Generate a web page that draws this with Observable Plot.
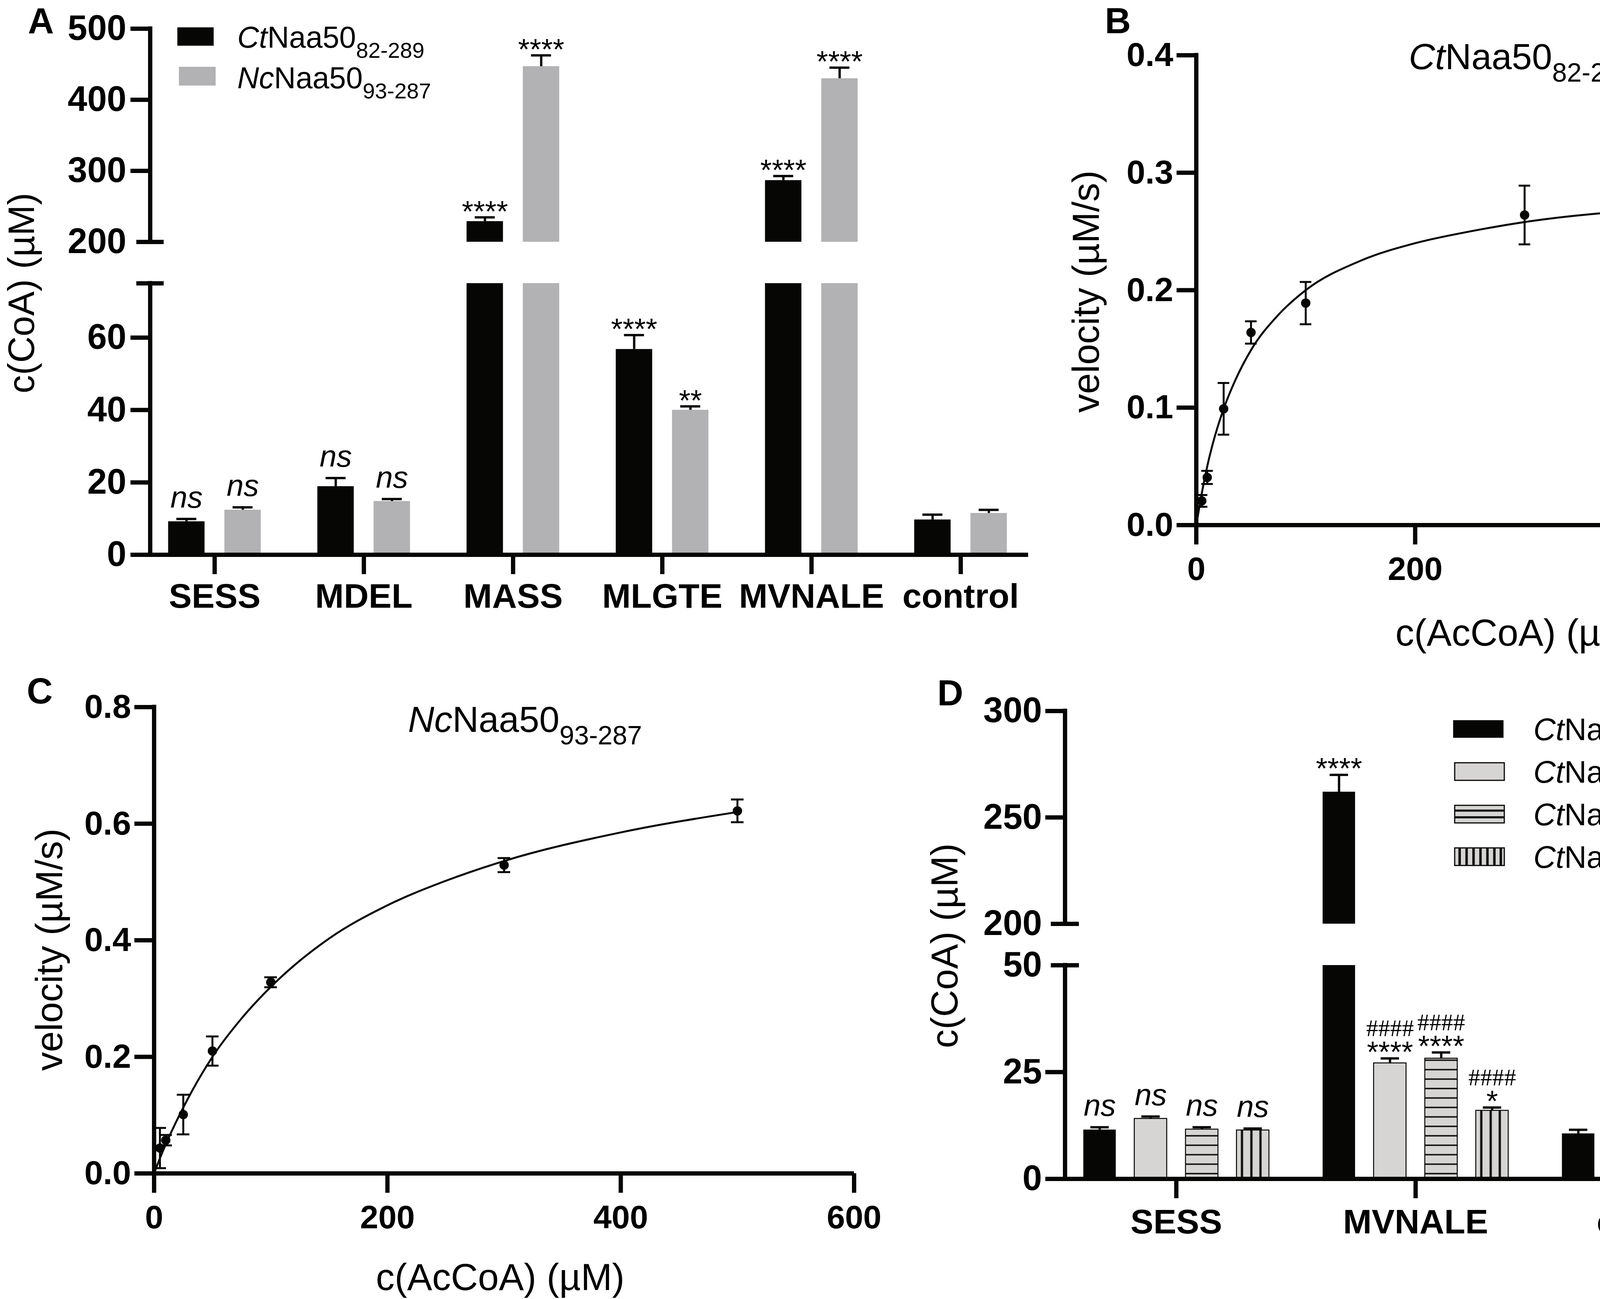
<!DOCTYPE html>
<html>
<head>
<meta charset="utf-8">
<script src="https://cdn.jsdelivr.net/npm/d3@7"></script>
<script src="https://cdn.jsdelivr.net/npm/@observablehq/plot@0.6"></script>
<style>
  body { margin: 0; background: #fff; }
  #fig { position: relative; width: 4814px; height: 3326px; background: #fff; overflow: hidden; }
  #fig svg { position: absolute; overflow: visible; }
  #fig text { white-space: pre; }
</style>
</head>
<body>
<div id="fig"></div>
<script>
// ---- panel A : CoA release per peptide ----
const groupsA = ["SESS", "MDEL", "MASS", "MLGTE", "MVNALE", "control"];
const ctA = [9.2, 18.9, 229, 56.8, 286.7, 9.7];
const ctAErr = [0.7, 2.3, 5.6, 3.9, 6.0, 1.4];
const ncA = [12.4, 14.8, 447, 40.0, 430, 11.5];
const ncAErr = [0.7, 0.6, 15.5, 1.0, 15.2, 0.9];
const ctSigA = ["ns", "ns", "****", "****", "****", ""];
const ncSigA = ["ns", "ns", "****", "**", "****", ""];
const legendA = ["_Ct_Naa50~82-289~", "_Nc_Naa50~93-287~"];
const ticksA = [0, 20, 40, 60, 200, 300, 400, 500];

// ---- panels B and C : velocity vs c(AcCoA) ----
const acCoA = [5, 10, 25, 50, 100, 300, 500];
const velB = [0.0206, 0.0406, 0.099, 0.164, 0.189, 0.264, 0.264];
const errB = [0.005, 0.0056, 0.022, 0.0095, 0.018, 0.025, 0.0515];
const fitXB = [0, 2, 5, 10, 15, 25, 35, 50, 75, 100, 150, 200, 250, 300, 400, 500];
const fitYB = [0, 0.011, 0.027, 0.05, 0.069, 0.099, 0.122, 0.149, 0.179, 0.2, 0.225, 0.24, 0.25, 0.258, 0.268, 0.274];
const velC = [0.0435, 0.057, 0.101, 0.21, 0.328, 0.529, 0.622];
const errC = [0.0345, 0.009, 0.034, 0.025, 0.0085, 0.012, 0.0195];
const fitXC = [0, 5, 10, 25, 50, 75, 100, 150, 200, 250, 300, 400, 500];
const fitYC = [0, 0.026, 0.05, 0.113, 0.2, 0.266, 0.32, 0.403, 0.46, 0.502, 0.536, 0.585, 0.62];

// ---- panel D : mutants ----
const groupsD = ["SESS", "MVNALE", "control"];
const dTrunc = [11.5, 262, 10.6];
const dTruncErr = [0.6, 8.0, 0.9];
const dFull = [14.1, 27.1, 13.4];
const dFullErr = [0.5, 1.1, 0.45];
const dY190F = [11.6, 28.2, 10.3];
const dY190FErr = [0.5, 1.4, 0.7];
const dH235A = [11.4, 16.0, 9.0];
const dH235AErr = [0.4, 0.7, 0.3];
const sigTrunc = ["ns", "****", ""];
const sigFull = ["ns", "****", ""];
const sigY190F = ["ns", "****", ""];
const sigH235A = ["ns", "*", ""];
const hashFull = ["", "####", ""];
const hashY190F = ["", "####", ""];
const hashH235A = ["", "####", ""];
const legendD = ["_Ct_Naa50~82-289~", "_Ct_Naa50", "_Ct_Naa50~82-289~ Y190F", "_Ct_Naa50~82-289~ H235A"];
const ticksD = [0, 25, 50, 200, 250, 300];

const FONT = "'Liberation Sans', Arial, Helvetica, sans-serif";
const SERIF = "'Liberation Serif', 'DejaVu Serif', serif";
const BLACK = "#060604", GRAY = "#b2b1b3", LIGHT = "#d6d5d4";
const AX = 11;          // axis stroke width
const HASH = 61, HASH_LH = 1.08;   // size / line height of the "####" line
const fig = document.getElementById("fig");

const rows = (vals, errs, sig, hash) =>
  vals.map((v, i) => ({i, v, e: errs[i], m: sig ? sig[i] : "", h: hash ? hash[i] : ""}));

// broken y axes: map a value to a position along the axis (two linear pieces)
function brokenAxis(lowTop, highBottom, highTop, lowLen, gap, highLen) {
  const f = v => v <= lowTop ? v * lowLen / lowTop
    : v >= highBottom ? lowLen + gap + (v - highBottom) * highLen / (highTop - highBottom)
    : lowLen + (v - lowTop) * gap / (highBottom - lowTop);
  f.max = lowLen + gap + highLen;
  return f;
}

// helpers to place free text / swatches in page pixels
function helpers(b) {
  const fl = b.ox + b.ml, ft = b.oy + b.mt, fr = b.ox + b.w - b.mr, fb = b.oy + b.h - b.mb;
  return {
    at: (px, py) => ({frameAnchor: "top-left", dx: px - fl, dy: py - ft}),
    box: (x1, y1, x2, y2) => ({insetLeft: x1 - fl, insetTop: y1 - ft, insetRight: fr - x2, insetBottom: fb - y2})
  };
}

function richText(svg) {
  d3.select(svg).selectAll("text").each(function () {
    const s = this.textContent;
    if (!/[_~]/.test(s)) return;
    const fs = parseFloat(getComputedStyle(this).fontSize);
    const parts = s.split(/(_[^_]*_|~[^~]*~)/).filter(p => p);
    this.textContent = "";
    let down = false;
    for (const p of parts) {
      const t = d3.select(this).append("tspan");
      if (p[0] === "~") {
        t.text(p.slice(1, -1)).attr("font-size", fs * 0.73).attr("dy", fs * 0.35);
        down = true;
        continue;
      }
      if (p[0] === "_") t.text(p.slice(1, -1)).attr("font-style", "italic");
      else t.text(p);
      if (down) { t.attr("dy", -fs * 0.35); down = false; }
    }
  });
  // under a "####" line the stars go back to the sans face (keep the line step in px)
  d3.select(svg).selectAll("tspan").filter(function () { return this.textContent.startsWith("*"); })
    .attr("font-family", FONT).attr("font-size", 76).attr("dy", HASH * HASH_LH);
}

function mount(svg, b) {
  svg.style.left = b.ox + "px";
  svg.style.top = b.oy + "px";
  fig.appendChild(svg);
  richText(svg);
}

const baseStyle = {fontFamily: FONT, color: "black", background: "transparent", overflow: "visible", maxWidth: "none"};

// ================= panel A =================
{
  const b = {ox: 0, oy: 0, w: 2700, h: 1650, ml: 384, mr: 68, mt: 73, mb: 230};
  const h = helpers(b);
  const u = brokenAxis(75, 200, 500, 695, 106, 546);
  const xd = [-0.432, 5.453];
  const hw = 0.122, cap = 0.067, capAx = 35 / 382;
  const series = [
    {rows: rows(ctA, ctAErr, ctSigA), fill: BLACK, off: -0.1885},
    {rows: rows(ncA, ncAErr, ncSigA), fill: GRAY, off: 0.1885}
  ];
  const marks = [];
  for (const s of series) {
    const xc = d => d.i + s.off;
    marks.push(
      Plot.rect(s.rows, {x1: d => xc(d) - hw, x2: d => xc(d) + hw, y1: 0, y2: d => u(Math.min(d.v, 75)), fill: s.fill}),
      Plot.rect(s.rows.filter(d => d.v > 200), {x1: d => xc(d) - hw, x2: d => xc(d) + hw, y1: u(200), y2: d => u(d.v), fill: s.fill}),
      Plot.ruleX(s.rows, {x: xc, y1: d => u(d.v), y2: d => u(d.v + d.e), stroke: BLACK, strokeWidth: 6}),
      Plot.ruleY(s.rows, {y: d => u(d.v + d.e), x1: d => xc(d) - cap, x2: d => xc(d) + cap, stroke: BLACK, strokeWidth: 6}),
      Plot.text(s.rows.filter(d => d.m === "ns"), {x: xc, y: d => u(d.v + d.e), text: "m", dy: -29, lineAnchor: "bottom", fontStyle: "italic", fontSize: 78}),
      Plot.text(s.rows.filter(d => d.m.startsWith("*")), {x: xc, y: d => u(d.v + d.e), text: "m", dy: 10, lineAnchor: "bottom", fontSize: 76})
    );
  }
  const tickLab = new Map(ticksA.map(v => [u(v), String(v)]));
  const svg = Plot.plot({
    width: b.w, height: b.h, marginLeft: b.ml, marginRight: b.mr, marginTop: b.mt, marginBottom: b.mb,
    x: {domain: xd},
    y: {domain: [0, u.max]},
    style: baseStyle,
    marks: [
      ...marks,
      Plot.ruleX([[0, 75], [200, 500]], {x: () => xd[0], y1: d => u(d[0]), y2: d => u(d[1]), stroke: BLACK, strokeWidth: AX, strokeLinecap: "square"}),
      Plot.ruleY([0], {x1: xd[0], x2: xd[1], stroke: BLACK, strokeWidth: AX}),
      Plot.ruleY([u(75), u(200)], {x1: xd[0] - capAx, x2: xd[0] + capAx, stroke: BLACK, strokeWidth: AX}),
      Plot.axisY({ticks: ticksA.filter(v => v !== 200).map(u), tickFormat: t => tickLab.get(t), tickSize: 50, tickPadding: 11, stroke: BLACK, strokeWidth: AX, fontSize: 90, fontWeight: "bold", label: null}),
      Plot.axisY({ticks: [u(200)], tickFormat: t => tickLab.get(t), tickSize: 0, tickPadding: 61, fontSize: 90, fontWeight: "bold", label: null}),
      Plot.axisX({ticks: [0, 1, 2, 3, 4, 5], tickFormat: i => groupsA[i], tickSize: 50, tickPadding: 23, stroke: BLACK, strokeWidth: AX, fontSize: 88, fontWeight: "bold", label: null}),
      Plot.rect([0], {...h.box(454, 70, 547, 117), fill: BLACK}),
      Plot.rect([0], {...h.box(458, 171, 552, 219), fill: GRAY}),
      Plot.text([legendA[0]], {...h.at(607, 121), textAnchor: "start", lineAnchor: "bottom", fontSize: 77}),
      Plot.text([legendA[1]], {...h.at(607, 225), textAnchor: "start", lineAnchor: "bottom", fontSize: 77}),
      Plot.text(["A"], {...h.at(71, 84), textAnchor: "start", lineAnchor: "bottom", fontSize: 92, fontWeight: "bold"}),
      Plot.text(["c(CoA) (µM)"], {...h.at(86, 750), rotate: -90, textAnchor: "middle", lineAnchor: "bottom", fontSize: 94})
    ]
  });
  mount(svg, b);
}

// ================= panels B and C =================
function kinetics(b, vel, err, fitX, fitY, yMax, yTicks, cap, title, titlePos, labels) {
  const h = helpers(b);
  const pts = acCoA.map((x, i) => ({x, y: vel[i], e: err[i]}));
  const fit = fitX.map((x, i) => ({x, y: fitY[i]}));
  return Plot.plot({
    width: b.w, height: b.h, marginLeft: b.ml, marginRight: b.mr, marginTop: b.mt, marginBottom: b.mb,
    x: {domain: [0, 600]},
    y: {domain: [0, yMax]},
    style: baseStyle,
    marks: [
      Plot.line(fit, {x: "x", y: "y", curve: "monotone-x", stroke: BLACK, strokeWidth: 5}),
      Plot.ruleX(pts, {x: "x", y1: d => d.y - d.e, y2: d => d.y + d.e, stroke: BLACK, strokeWidth: 5}),
      Plot.ruleY(pts, {y: d => d.y + d.e, x1: d => d.x - cap, x2: d => d.x + cap, stroke: BLACK, strokeWidth: 5}),
      Plot.ruleY(pts, {y: d => d.y - d.e, x1: d => d.x - cap, x2: d => d.x + cap, stroke: BLACK, strokeWidth: 5}),
      Plot.dot(pts, {x: "x", y: "y", r: 12, fill: BLACK, stroke: null}),
      Plot.ruleX([0], {y1: 0, y2: yMax, stroke: BLACK, strokeWidth: AX, strokeLinecap: "square"}),
      Plot.ruleY([0], {x1: 0, x2: 600, stroke: BLACK, strokeWidth: AX}),
      Plot.axisY({ticks: yTicks, tickFormat: d3.format(".1f"), tickSize: 50, tickPadding: 9, stroke: BLACK, strokeWidth: AX, fontSize: 86, fontWeight: "bold", label: null}),
      Plot.axisX({ticks: [0, 200, 400, 600], tickFormat: d => d, tickSize: 50, tickPadding: 31, stroke: BLACK, strokeWidth: AX, fontSize: 84, fontWeight: "bold", label: null}),
      Plot.text([title], {...h.at(...titlePos), textAnchor: "start", lineAnchor: "bottom", fontSize: 93}),
      Plot.text([labels.letter], {...h.at(...labels.letterPos), textAnchor: "start", lineAnchor: "bottom", fontSize: 92, fontWeight: "bold"}),
      Plot.text(["velocity (µM/s)"], {...h.at(...labels.yPos), rotate: -90, textAnchor: "middle", lineAnchor: "bottom", fontSize: 96}),
      Plot.text(["c(AcCoA) (µM)"], {...h.at(...labels.xPos), textAnchor: "middle", lineAnchor: "bottom", fontSize: 96})
    ]
  });
}

{
  const b = {ox: 2700, oy: 0, w: 2114, h: 1700, ml: 362, mr: 71, mt: 141, mb: 356};
  const svg = kinetics(b, velB, errB, fitXB, fitYB, 0.4, [0, 0.1, 0.2, 0.3, 0.4], 5.3,
    "_Ct_Naa50~82-289~", [3606, 176],
    {letter: "B", letterPos: [2828, 84], yPos: [2812, 746], xPos: [3890, 1652]});
  mount(svg, b);
}
{
  const b = {ox: 0, oy: 1700, w: 2300, h: 1626, ml: 394, mr: 114, mt: 110, mb: 322};
  const svg = kinetics(b, velC, errC, fitXC, fitYC, 0.8, [0, 0.2, 0.4, 0.6, 0.8], 5.4,
    "_Nc_Naa50~93-287~", [1044, 1873],
    {letter: "C", letterPos: [68, 1800], yPos: [158, 2431], xPos: [1280, 3302]});
  mount(svg, b);
}

// ================= panel D =================
{
  const b = {ox: 2300, oy: 1700, w: 2514, h: 1626, ml: 426, mr: 290, mt: 120, mb: 308};
  const h = helpers(b);
  const u = brokenAxis(50, 200, 300, 547, 106, 545);
  const xd = [-0.465, 2.47];
  const hw = 0.0678, cap = 0.0384, capAx = 36 / 612.5;
  const series = [
    {rows: rows(dTrunc, dTruncErr, sigTrunc), fill: BLACK, stroke: null, off: -0.32},
    {rows: rows(dFull, dFullErr, sigFull, hashFull), fill: LIGHT, stroke: BLACK, off: -0.107},
    {rows: rows(dY190F, dY190FErr, sigY190F, hashY190F), fill: "url(#hstripe)", stroke: BLACK, off: 0.107},
    {rows: rows(dH235A, dH235AErr, sigH235A, hashH235A), fill: "url(#vstripe)", stroke: BLACK, off: 0.32}
  ];
  const marks = [];
  for (const s of series) {
    const xc = d => d.i + s.off;
    marks.push(
      Plot.rect(s.rows, {x1: d => xc(d) - hw, x2: d => xc(d) + hw, y1: 0, y2: d => u(Math.min(d.v, 50)), fill: s.fill, stroke: s.stroke, strokeWidth: 2.5}),
      Plot.rect(s.rows.filter(d => d.v > 200), {x1: d => xc(d) - hw, x2: d => xc(d) + hw, y1: u(200), y2: d => u(d.v), fill: s.fill, stroke: s.stroke, strokeWidth: 2.5}),
      Plot.ruleX(s.rows, {x: xc, y1: d => u(d.v), y2: d => u(d.v + d.e), stroke: BLACK, strokeWidth: 6}),
      Plot.ruleY(s.rows, {y: d => u(d.v + d.e), x1: d => xc(d) - cap, x2: d => xc(d) + cap, stroke: BLACK, strokeWidth: 6}),
      Plot.text(s.rows.filter(d => d.m === "ns"), {x: xc, y: d => u(d.v + d.e), text: "m", dy: -29, lineAnchor: "bottom", fontStyle: "italic", fontSize: 78}),
      Plot.text(s.rows.filter(d => d.m.startsWith("*") && !d.h), {x: xc, y: d => u(d.v + d.e), text: "m", dy: 9, lineAnchor: "bottom", fontSize: 76}),
      Plot.text(s.rows.filter(d => d.m.startsWith("*") && d.h), {x: xc, y: d => u(d.v + d.e), text: d => d.h + "\n" + d.m, dy: 9, lineAnchor: "bottom", lineHeight: HASH_LH, fontSize: HASH, fontFamily: SERIF})
    );
  }
  const tickLab = new Map(ticksD.map(v => [u(v), String(v)]));
  const legendY = [1894, 2003, 2112, 2221];
  const svg = Plot.plot({
    width: b.w, height: b.h, marginLeft: b.ml, marginRight: b.mr, marginTop: b.mt, marginBottom: b.mb,
    x: {domain: xd},
    y: {domain: [0, u.max]},
    style: baseStyle,
    marks: [
      ...marks,
      Plot.ruleX([[0, 50], [200, 300]], {x: () => xd[0], y1: d => u(d[0]), y2: d => u(d[1]), stroke: BLACK, strokeWidth: AX, strokeLinecap: "square"}),
      Plot.ruleY([0], {x1: xd[0], x2: xd[1], stroke: BLACK, strokeWidth: AX}),
      Plot.ruleY([u(50), u(200)], {x1: xd[0] - capAx, x2: xd[0] + capAx, stroke: BLACK, strokeWidth: AX}),
      Plot.axisY({ticks: [0, 25, 250, 300].map(u), tickFormat: t => tickLab.get(t), tickSize: 50, tickPadding: 9, stroke: BLACK, strokeWidth: AX, fontSize: 90, fontWeight: "bold", label: null}),
      Plot.axisY({ticks: [50, 200].map(u), tickFormat: t => tickLab.get(t), tickSize: 0, tickPadding: 59, fontSize: 90, fontWeight: "bold", label: null}),
      Plot.axisX({ticks: [0, 1, 2], tickFormat: i => groupsD[i], tickSize: 50, tickPadding: 27, stroke: BLACK, strokeWidth: AX, fontSize: 88, fontWeight: "bold", label: null}),
      Plot.rect([0], {...h.box(3720, 1844, 3849, 1889), fill: BLACK}),
      Plot.rect([0], {...h.box(3724, 1953, 3851, 1998), fill: LIGHT, stroke: BLACK, strokeWidth: 3}),
      Plot.rect([0], {...h.box(3724, 2062, 3851, 2107), fill: "url(#hstripeL)", stroke: BLACK, strokeWidth: 3}),
      Plot.rect([0], {...h.box(3724, 2171, 3851, 2216), fill: "url(#vstripeL)", stroke: BLACK, strokeWidth: 3}),
      ...legendD.map((t, k) => Plot.text([t], {...h.at(3925, legendY[k]), textAnchor: "start", lineAnchor: "bottom", fontSize: 79})),
      Plot.text(["D"], {...h.at(2399, 1805), textAnchor: "start", lineAnchor: "bottom", fontSize: 92, fontWeight: "bold"}),
      Plot.text(["c(CoA) (µM)"], {...h.at(2450, 2421), rotate: -90, textAnchor: "middle", lineAnchor: "bottom", fontSize: 96})
    ]
  });
  // stripe patterns for the mutant bars
  const defs = d3.select(svg).insert("defs", ":first-child");
  const hs = defs.append("pattern").attr("id", "hstripe").attr("patternUnits", "userSpaceOnUse")
    .attr("width", 200).attr("height", 24.2);
  hs.append("rect").attr("width", 200).attr("height", 24.2).attr("fill", LIGHT);
  hs.append("rect").attr("y", 20.5).attr("width", 200).attr("height", 5.5).attr("fill", "#111");
  const vs = defs.append("pattern").attr("id", "vstripe").attr("patternUnits", "objectBoundingBox")
    .attr("patternContentUnits", "objectBoundingBox").attr("width", 1).attr("height", 1);
  vs.append("rect").attr("width", 1).attr("height", 1).attr("fill", LIGHT);
  [0.17, 0.46, 0.74].forEach(c => vs.append("rect").attr("x", c - 0.035).attr("width", 0.07).attr("height", 1).attr("fill", "#111"));
  const hl = defs.append("pattern").attr("id", "hstripeL").attr("patternUnits", "objectBoundingBox")
    .attr("patternContentUnits", "objectBoundingBox").attr("width", 1).attr("height", 1);
  hl.append("rect").attr("width", 1).attr("height", 1).attr("fill", LIGHT);
  [0.3, 0.68].forEach(c => hl.append("rect").attr("y", c - 0.06).attr("width", 1).attr("height", 0.12).attr("fill", "#111"));
  const vl = defs.append("pattern").attr("id", "vstripeL").attr("patternUnits", "objectBoundingBox")
    .attr("patternContentUnits", "objectBoundingBox").attr("width", 1).attr("height", 1);
  vl.append("rect").attr("width", 1).attr("height", 1).attr("fill", LIGHT);
  [0.1, 0.24, 0.38, 0.52, 0.66, 0.8, 0.93].forEach(c => vl.append("rect").attr("x", c - 0.025).attr("width", 0.05).attr("height", 1).attr("fill", "#111"));
  mount(svg, b);
}
</script>
</body>
</html>
